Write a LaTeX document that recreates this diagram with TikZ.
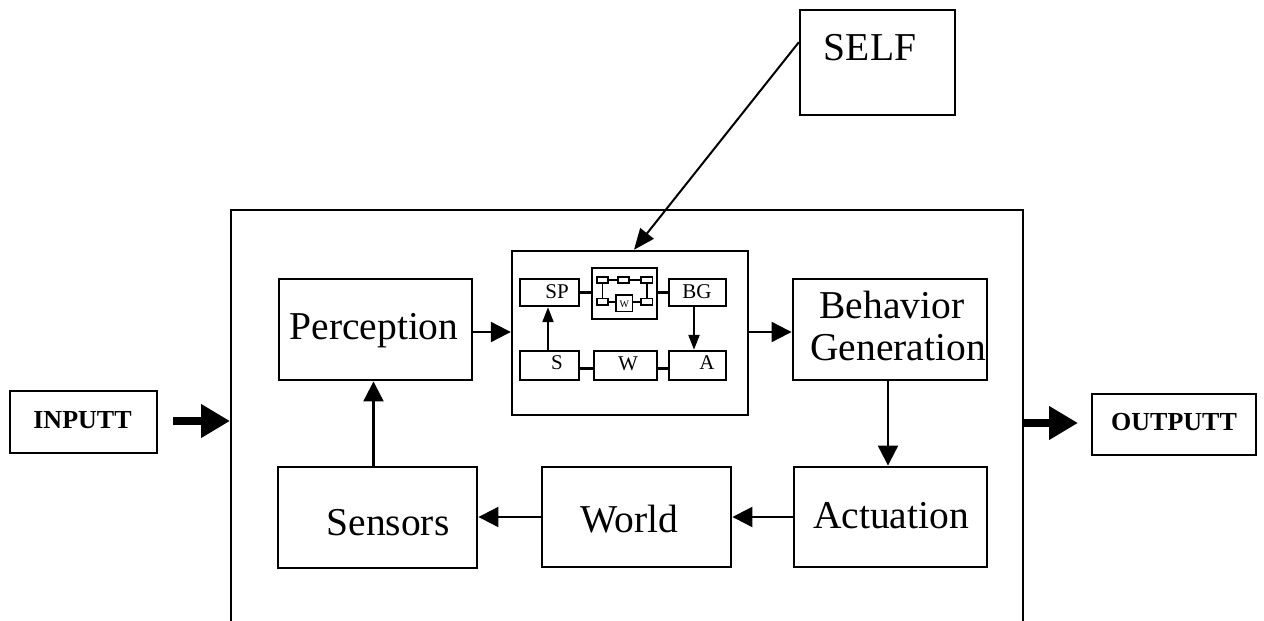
\documentclass[tikz,border=0pt]{standalone}
\usepackage{fontspec}
\setmainfont{Liberation Serif}
\usetikzlibrary{arrows.meta,calc}

\tikzset{
  box/.style={draw, rectangle, line width=2.9pt, inner sep=0pt},
  thinbox/.style={draw, rectangle, line width=2.2pt, inner sep=0pt},
  smallbox/.style={draw, rectangle, line width=2.4pt, inner sep=0pt},
  tinybox/.style={draw, rectangle, line width=1.7pt, inner sep=0pt},
  bigtext/.style={font=\fontsize{39.5}{44}\selectfont, inner sep=0pt, anchor=base},
  boldtext/.style={font=\fontsize{26}{30}\selectfont\bfseries, inner sep=0pt, anchor=base},
  smalltext/.style={font=\fontsize{21}{24}\selectfont, inner sep=0pt, anchor=base},
  tinytext/.style={font=\fontsize{10}{11}\selectfont, inner sep=0pt, anchor=base},
  flow/.style={line width=2.2pt, -{Triangle[length=20pt,width=20pt]}},
  subflow/.style={line width=2.2pt, -{Triangle[length=15pt,width=11pt]}},
  thick flow/.style={line width=8pt, -{Triangle[length=29pt,width=32pt]}},
  link/.style={line width=2.2pt},
  tinylink/.style={line width=1.7pt},
}

\begin{document}
\begin{tikzpicture}[x=1pt,y=-1pt]
\useasboundingbox (0,0) rectangle (1264,621);
\fill[white] (0,0) rectangle (1264,621);

% enclosing system frame (open towards the bottom)
\draw[line width=2.7pt] (231,640) -- (231,210) -- (1023,210) -- (1023,640);

% outside boxes
\node[thinbox, minimum width=155pt, minimum height=105pt] (self) at (877.5,62.5) {};
\node[bigtext] (selfT) at (870,60) {SELF};

\node[thinbox, minimum width=147pt, minimum height=62pt] (inbox) at (83.5,422) {};
\node[boldtext] (inT) at (82.5,428) {INPUTT};

\node[thinbox, minimum width=164pt, minimum height=61pt] (outbox) at (1174,424.5) {};
\node[boldtext] (outT) at (1174,430) {OUTPUTT};

% main loop boxes
\node[box, minimum width=193pt, minimum height=101pt] (perc) at (375.5,329.5) {};
\node[bigtext] (percT) at (374,339) {Perception};

\node[box, minimum width=194pt, minimum height=101pt] (behav) at (890,329.5) {};
\node[bigtext] (behavT1) at (892,318) {Behavior};
\node[bigtext] (behavT2) at (898,360) {Generation};

\node[box, minimum width=199pt, minimum height=101pt] (sens) at (377.5,517.5) {};
\node[bigtext] (sensT) at (388,535) {Sensors};

\node[box, minimum width=189pt, minimum height=100pt] (world) at (636.5,517) {};
\node[bigtext] (worldT) at (629,532) {World};

\node[box, minimum width=193pt, minimum height=100pt] (act) at (890.5,517) {};
\node[bigtext] (actT) at (891,528) {Actuation};

% nested copy of the loop
\node[smallbox, minimum width=236pt, minimum height=164pt] (mid) at (630,333) {};

\node[smallbox, minimum width=59pt, minimum height=27pt] (sp) at (549.5,292.5) {};
\node[smalltext] (spT) at (557,298.5) {SP};
\node[smallbox, minimum width=65pt, minimum height=51pt] (clus) at (624.5,293.5) {};
\node[smallbox, minimum width=57pt, minimum height=27pt] (bg) at (697.5,292.5) {};
\node[smalltext] (bgT) at (697,298.5) {BG};
\node[smallbox, minimum width=59pt, minimum height=29pt] (s) at (549.5,365.5) {};
\node[smalltext] (sT) at (557,369) {S};
\node[smallbox, minimum width=63pt, minimum height=29pt] (w) at (625.5,365.5) {};
\node[smalltext] (wT) at (628,370) {W};
\node[smallbox, minimum width=57pt, minimum height=29pt] (a) at (697.5,365.5) {};
\node[smalltext] (aT) at (707,369) {A};

% innermost loop
\node[tinybox, minimum width=11.5pt, minimum height=6.5pt] (c1) at (602.5,280) {};
\node[tinybox, minimum width=11pt, minimum height=6.5pt] (c2) at (623.7,280) {};
\node[tinybox, minimum width=11.5pt, minimum height=6.5pt] (c3) at (646.7,280) {};
\node[tinybox, minimum width=11.5pt, minimum height=6.5pt] (c4) at (602.5,301.7) {};
\node[tinybox, minimum width=16.5pt, minimum height=16.5pt] (c5) at (624.3,303.3) {};
\node[tinytext] (c5T) at (624.3,307) {W};
\node[tinybox, minimum width=11.5pt, minimum height=6.5pt] (c6) at (646.7,301.7) {};
\draw[tinylink] (c1) -- (c2);
\draw[tinylink] (c2) -- (c3);
\draw[tinylink] (c1) -- (c4);
\draw[tinylink] (c3) -- (c6);
\draw[tinylink] (c4) -- (c4 -| c5.west);
\draw[tinylink] (c6 -| c5.east) -- (c6);

% nested loop connections
\draw[link] (sp.east) -- (sp.east -| clus.west);
\draw[link] (bg.west -| clus.east) -- (bg.west);
\draw[link] ([yshift=-3pt]s.east) -- ([yshift=-3pt]w.west);
\draw[link] ([yshift=-3pt]w.east) -- ([yshift=-3pt]a.west);
\draw[subflow] ([xshift=-1.5pt]s.north) -- ([xshift=-1.5pt]s.north |- sp.south);
\draw[subflow] ([xshift=-3.5pt]bg.south) -- ([xshift=-3.5pt]bg.south |- a.north);

% main loop connections
\draw[flow] (perc.east |- 0,332) -- (mid.west |- 0,332);
\draw[flow] (mid.east |- 0,332) -- (behav.west |- 0,332);
\draw[flow] ([xshift=-2pt]behav.south) -- ([xshift=-2pt]behav.south |- act.north);
\draw[flow] (act.west) -- (act.west -| world.east);
\draw[flow] (world.west) -- (world.west -| sens.east);
\draw[flow] ([xshift=-4pt]sens.north) -- ([xshift=-4pt]sens.north |- perc.south);

% self-reference
\draw[line width=2pt, -{Triangle[length=21pt,width=17pt]}]
  ($(self.north west)!0.31!(self.south west)$) -- ([xshift=4pt]mid.north);

% input and output
\coordinate (inStart) at (173,421);
\coordinate (inEnd) at (230,421);
\coordinate (outStart) at (1023,423);
\coordinate (outEnd) at (1078,423);
\draw[thick flow] (inStart) -- (inEnd);
\draw[thick flow] (outStart) -- (outEnd);
\end{tikzpicture}
\end{document}
